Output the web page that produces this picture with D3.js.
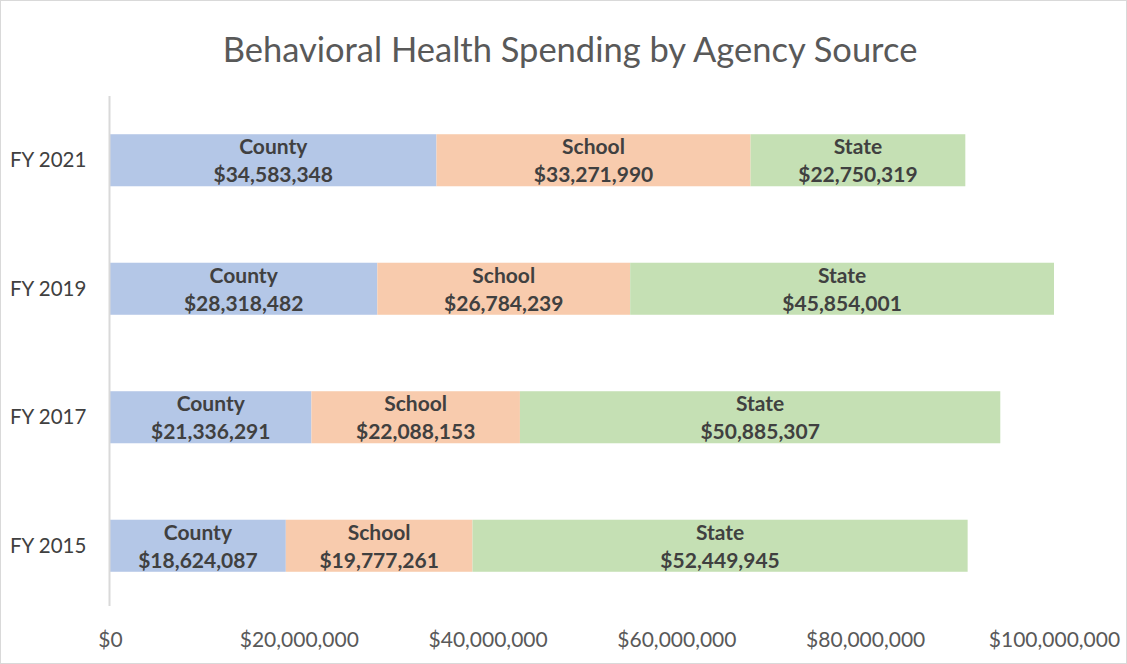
<!DOCTYPE html>
<html>
<head>
<meta charset="utf-8">
<script src="https://cdn.jsdelivr.net/npm/d3@7"></script>
<style>
  body { margin: 0; background: #fff; }
  text { font-family: Lato, "Open Sans", sans-serif; }
</style>
</head>
<body>
<div id="chart"></div>
<script>
const years = ["FY 2021", "FY 2019", "FY 2017", "FY 2015"];
const sources = ["County", "School", "State"];
const county = [34583348, 28318482, 21336291, 18624087];
const school = [33271990, 26784239, 22088153, 19777261];
const state = [22750319, 45854001, 50885307, 52449945];
const xTicks = [0, 20000000, 40000000, 60000000, 80000000, 100000000];
const colors = ["#b4c7e7", "#f8cbad", "#c5e0b4"];

const W = 1127, H = 664;
const margin = {top: 96, right: 73, bottom: 54, left: 110};
const width = W - margin.left - margin.right;
const height = H - margin.top - margin.bottom;

const svg = d3.select("#chart")
    .append("svg")
    .attr("width", W)
    .attr("height", H);

svg.append("rect")
    .attr("x", 0.5).attr("y", 0.5)
    .attr("width", W - 1).attr("height", H - 1)
    .attr("fill", "#fff")
    .attr("stroke", "#d9d9d9");

svg.append("text")
    .attr("x", 570)
    .attr("y", 62)
    .attr("text-anchor", "middle")
    .attr("fill", "#595959")
    .style("font-size", "34.5px")
    .text("Behavioral Health Spending by Agency Source");

const g = svg.append("g")
    .attr("transform", `translate(${margin.left},${margin.top})`);

const rows = years.map((y, i) => ({year: y, County: county[i], School: school[i], State: state[i]}));
const stacked = d3.stack().keys(sources)(rows);

const x = d3.scaleLinear().domain([0, 100000000]).range([0, width]);
const y = d3.scaleBand().domain(years).range([0, height]).paddingInner(0.595).paddingOuter(0.2975);

const fmt = d3.format("$,.0f");
const clip = v => Math.min(v, 100000000);

stacked.forEach((layer, k) => {
    const grp = g.append("g");
    grp.selectAll("rect")
        .data(layer)
        .join("rect")
        .attr("x", d => x(clip(d[0])))
        .attr("y", d => y(d.data.year))
        .attr("width", d => x(clip(d[1])) - x(clip(d[0])))
        .attr("height", y.bandwidth())
        .attr("fill", colors[k]);

    const lbl = grp.selectAll("text")
        .data(layer)
        .join("text")
        .attr("text-anchor", "middle")
        .attr("fill", "#404040")
        .style("font-size", "21px")
        .style("font-weight", "bold")
        .attr("transform", d => `translate(${(x(clip(d[0])) + x(clip(d[1]))) / 2},${y(d.data.year)})`);
    lbl.append("tspan").attr("x", 0).attr("y", 20).text(layer.key);
    lbl.append("tspan").attr("x", 0).attr("y", 48).text(d => fmt(d[1] - d[0]));
});

// vertical axis line
g.append("line")
    .attr("x1", -0.5).attr("x2", -0.5)
    .attr("y1", 0).attr("y2", height - 4)
    .attr("stroke", "#d9d9d9")
    .attr("stroke-width", 2);

// category labels
g.selectAll(".cat")
    .data(years)
    .join("text")
    .attr("class", "cat")
    .attr("x", -100)
    .attr("y", d => y(d) + y.bandwidth() / 2 + 7)
    .attr("fill", "#404040")
    .style("font-size", "20.5px")
    .text(d => d);

// x axis labels
const xAxis = g.append("g")
    .attr("transform", `translate(0,${height})`)
    .call(d3.axisBottom(x).tickValues(xTicks).tickFormat(fmt).tickSize(0).tickPadding(22));
xAxis.select(".domain").remove();
xAxis.selectAll("text")
    .attr("fill", "#595959")
    .style("font-size", "21px");
</script>
</body>
</html>
